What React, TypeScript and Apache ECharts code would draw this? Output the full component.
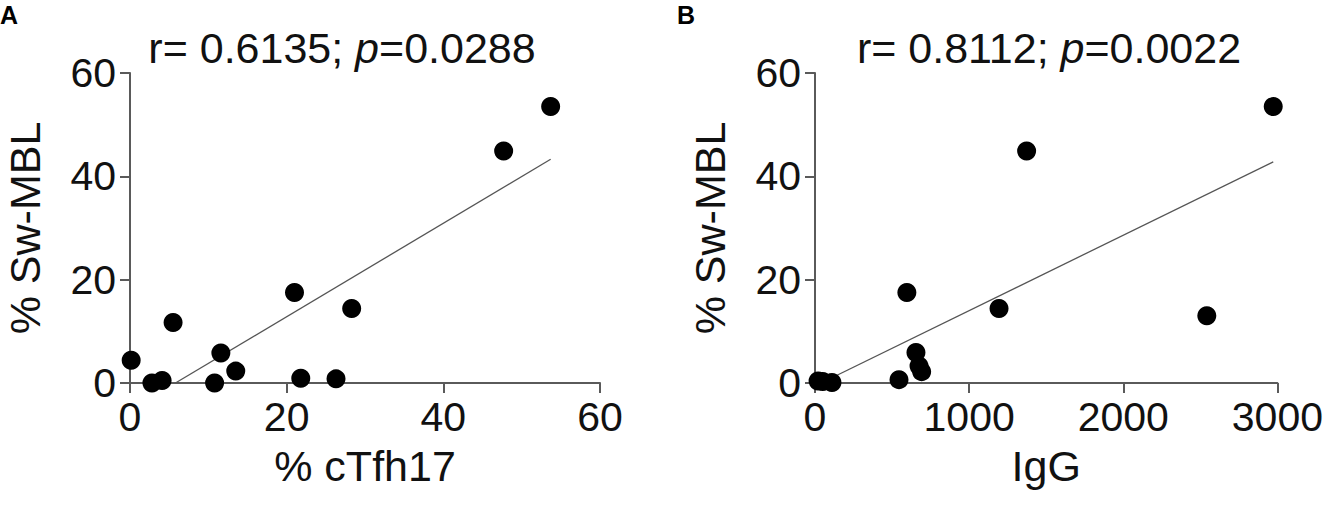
import React, { useEffect, useRef } from "react";
import * as echarts from "echarts";

// Panel A: % cTfh17 vs % Sw-MBL
const xA = [0.15, 2.8, 4.1, 5.5, 10.8, 11.6, 13.5, 21.0, 21.8, 26.3, 28.3, 47.7, 53.7];
const yA = [4.4, 0.0, 0.5, 11.7, 0.0, 5.8, 2.3, 17.5, 0.9, 0.8, 14.4, 44.9, 53.5];
const fitA = [[5.8, 0], [53.7, 43.3]];

// Panel B: IgG vs % Sw-MBL
const xB = [20, 50, 110, 545, 596, 655, 675, 692, 1194, 1373, 2542, 2973];
const yB = [0.4, 0.3, 0.1, 0.65, 17.5, 5.9, 3.3, 2.2, 14.4, 44.9, 13.0, 53.5];
const fitB = [[40, 0], [2973, 42.8]];

const yTicks = { min: 0, max: 60, interval: 20 };
const xTicksA = { min: 0, max: 60, interval: 20 };
const xTicksB = { min: 0, max: 3000, interval: 1000 };

const titleA = ["r= 0.6135; ", "p", "=0.0288"];
const titleB = ["r= 0.8112; ", "p", "=0.0022"];
const panelLabels = ["A", "B"];

const FONT = "Liberation Sans, Arial, Helvetica, sans-serif";
const AXIS_COLOR = "#5a5a5a";

export default function App() {
  const ref = useRef<HTMLDivElement>(null);
  useEffect(() => {
    document.body.style.margin = "0";
    const chart = echarts.init(ref.current!, null, { renderer: "svg" });
    const axisCommon = {
      axisLine: { show: true, onZero: false, lineStyle: { color: AXIS_COLOR, width: 2 } },
      axisTick: { show: true, inside: false, length: 10, lineStyle: { color: AXIS_COLOR, width: 2 } },
      splitLine: { show: false },
      nameLocation: "middle" as const,
      nameTextStyle: { fontFamily: FONT, fontSize: 43, color: "#111", fontWeight: "normal" },
      axisLabel: { fontFamily: FONT, fontSize: 41, color: "#111", formatter: (v: number) => String(v) },
    };
    const xAxis = (i: number, t: any, name: string) => ({
      ...axisCommon,
      type: "value",
      gridIndex: i,
      ...t,
      name,
      nameGap: 61,
      axisLabel: { ...axisCommon.axisLabel, margin: 13 },
    });
    const yAxis = (i: number) => ({
      ...axisCommon,
      type: "value",
      gridIndex: i,
      ...yTicks,
      name: "% Sw-MBL",
      nameGap: 84,
      axisLabel: { ...axisCommon.axisLabel, margin: 14 },
    });
    const rich = {
      n: { fontFamily: FONT, fontSize: 43, color: "#111", fontWeight: "normal" },
      i: { fontFamily: FONT, fontSize: 43, color: "#111", fontStyle: "italic", fontWeight: "normal" },
      b: { fontFamily: FONT, fontSize: 25, color: "#000", fontWeight: "bold" },
    };
    const mkTitle = (parts: string[], left: number) => ({
      text: `{n|${parts[0]}}{i|${parts[1]}}{n|${parts[2]}}`,
      left,
      top: 21,
      textAlign: "center",
      textStyle: { fontWeight: "normal", rich },
    });
    const mkPanel = (text: string, left: number) => ({
      text: `{b|${text}}`,
      left,
      top: 2,
      padding: 0,
      textStyle: { rich },
    });
    const scatter = (i: number, xs: number[], ys: number[]) => ({
      type: "scatter",
      xAxisIndex: i,
      yAxisIndex: i,
      symbol: "circle",
      symbolSize: 19,
      itemStyle: { color: "#000", opacity: 1 },
      data: xs.map((x, k) => [x, ys[k]]),
      z: 3,
    });
    const fit = (i: number, d: number[][]) => ({
      type: "line",
      xAxisIndex: i,
      yAxisIndex: i,
      showSymbol: false,
      symbol: "none",
      lineStyle: { color: "#555", width: 1.3 },
      data: d,
      z: 2,
    });
    chart.setOption({
      animation: false,
      backgroundColor: "#fff",
      title: [
        mkTitle(titleA, 337),
        mkTitle(titleB, 1044),
        mkPanel(panelLabels[0], 0),
        mkPanel(panelLabels[1], 677),
      ],
      grid: [
        { left: 130, top: 73, width: 470, height: 310 },
        { left: 815, top: 73, width: 471, height: 310 },
      ],
      xAxis: [xAxis(0, xTicksA, "% cTfh17"), xAxis(1, xTicksB, "IgG")],
      yAxis: [yAxis(0), yAxis(1)],
      series: [fit(0, fitA), scatter(0, xA, yA), fit(1, fitB), scatter(1, xB, yB)],
    });
    return () => chart.dispose();
  }, []);
  return <div ref={ref} style={{ width: 1326, height: 514 }} />;
}
